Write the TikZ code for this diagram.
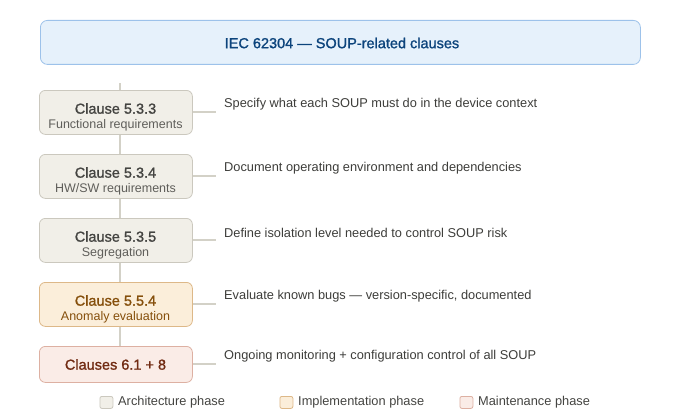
\documentclass[tikz,border=0pt]{standalone}
\usepackage{fontspec}
\setmainfont{Liberation Sans}
\newfontfamily\medfont{Liberation Sans}[FakeBold=1.2]
\definecolor{titlefill}{HTML}{E6F1FB}
\definecolor{titledraw}{HTML}{9DC2EA}
\definecolor{titletext}{HTML}{0C447C}
\definecolor{archfill}{HTML}{F1EFE8}
\definecolor{archdraw}{HTML}{CBC8BE}
\definecolor{archtext}{HTML}{444441}
\definecolor{archsub}{HTML}{5F5E5A}
\definecolor{implfill}{HTML}{FBEEDA}
\definecolor{impldraw}{HTML}{DDB888}
\definecolor{impltext}{HTML}{854F0B}
\definecolor{maintfill}{HTML}{FAECE7}
\definecolor{maintdraw}{HTML}{DDB0A2}
\definecolor{mainttext}{HTML}{712B13}
\definecolor{linegray}{HTML}{D3D1C7}
\definecolor{desctext}{HTML}{3D3D3A}
\tikzset{
  box/.style={draw, line width=0.8pt, rounded corners=6pt, minimum width=153pt, anchor=north west, inner sep=0pt},
  archbox/.style={box, fill=archfill, draw=archdraw, minimum height=44pt},
  implbox/.style={box, fill=implfill, draw=impldraw, minimum height=44pt},
  maintbox/.style={box, fill=maintfill, draw=maintdraw, minimum height=36pt},
  headtxt/.style={font=\medfont\fontsize{14.5}{17}\selectfont, inner sep=0pt},
  subtxt/.style={font=\fontsize{12.5}{15}\selectfont, inner sep=0pt},
  desc/.style={font=\fontsize{12.8}{15}\selectfont, text=desctext, anchor=west, inner sep=0pt},
  conn/.style={draw=linegray, line width=1.5pt},
  legsq/.style={draw, line width=0.8pt, rounded corners=2pt, minimum width=13pt, minimum height=12pt, inner sep=0pt, anchor=north west},
  legtxt/.style={font=\fontsize{12.8}{15}\selectfont, text=archtext, anchor=west, inner sep=0pt}
}
\begin{document}
\begin{tikzpicture}[x=1pt,y=-1pt]
\useasboundingbox (0,0) rectangle (680,420);
% title
\node[draw=titledraw, fill=titlefill, line width=0.8pt, rounded corners=7pt, minimum width=600pt, minimum height=44pt, anchor=north west, inner sep=0pt] (title) at (40,20) {};
\node[headtxt, text=titletext] (titletxt) at (342,43) {IEC 62304 — SOUP-related clauses};
% spine coordinates
\coordinate (top) at (120,83);
% boxes
\node[archbox] (b1) at (39,90) {};
\node[archbox] (b2) at (39,154) {};
\node[archbox] (b3) at (39,218) {};
\node[implbox] (b4) at (39,282) {};
\node[maintbox] (b5) at (39,346) {};
% spine
\draw[conn] (top) -- (top |- b1.north);
\draw[conn] (top |- b1.south) -- (top |- b2.north);
\draw[conn] (top |- b2.south) -- (top |- b3.north);
\draw[conn] (top |- b3.south) -- (top |- b4.north);
\draw[conn] (top |- b4.south) -- (top |- b5.north);
% box texts
\node[headtxt, text=archtext] (t1) at (115.5,108.5) {Clause 5.3.3};
\node[subtxt, text=archsub] (s1) at (115.5,125.5) {Functional requirements};
\node[headtxt, text=archtext] (t2) at (115.5,172.5) {Clause 5.3.4};
\node[subtxt, text=archsub] (s2) at (115.5,189.5) {HW/SW requirements};
\node[headtxt, text=archtext] (t3) at (115.5,236.5) {Clause 5.3.5};
\node[subtxt, text=archsub] (s3) at (115.5,253.5) {Segregation};
\node[headtxt, text=impltext] (t4) at (115.5,300.5) {Clause 5.5.4};
\node[subtxt, text=impltext] (s4) at (115.5,317.5) {Anomaly evaluation};
\node[headtxt, text=mainttext] (t5) at (115.5,364.5) {Clauses 6.1 + 8};
% horizontal stubs
\coordinate (e1) at (216,112);
\coordinate (e2) at (216,176);
\coordinate (e3) at (216,240);
\coordinate (e4) at (216,304);
\coordinate (e5) at (216,364);
\draw[conn] (b1.east |- e1) -- (e1);
\draw[conn] (b2.east |- e2) -- (e2);
\draw[conn] (b3.east |- e3) -- (e3);
\draw[conn] (b4.east |- e4) -- (e4);
\draw[conn] (b5.east |- e5) -- (e5);
% descriptions
\node[desc] (d1) at (224,104.5) {Specify what each SOUP must do in the device context};
\node[desc] (d2) at (224,168.5) {Document operating environment and dependencies};
\node[desc] (d3) at (224,232.5) {Define isolation level needed to control SOUP risk};
\node[desc] (d4) at (224,296.5) {Evaluate known bugs — version-specific, documented};
\node[desc] (d5) at (224,356.5) {Ongoing monitoring + configuration control of all SOUP};
% legend
\node[legsq, fill=archfill, draw=archdraw] (l1) at (99.5,396) {};
\node[legtxt] (lt1) at (118,402.5) {Architecture phase};
\node[legsq, fill=implfill, draw=impldraw] (l2) at (279.5,396) {};
\node[legtxt] (lt2) at (298,402.5) {Implementation phase};
\node[legsq, fill=maintfill, draw=maintdraw] (l3) at (459.5,396) {};
\node[legtxt] (lt3) at (478,402.5) {Maintenance phase};
\end{tikzpicture}
\end{document}
